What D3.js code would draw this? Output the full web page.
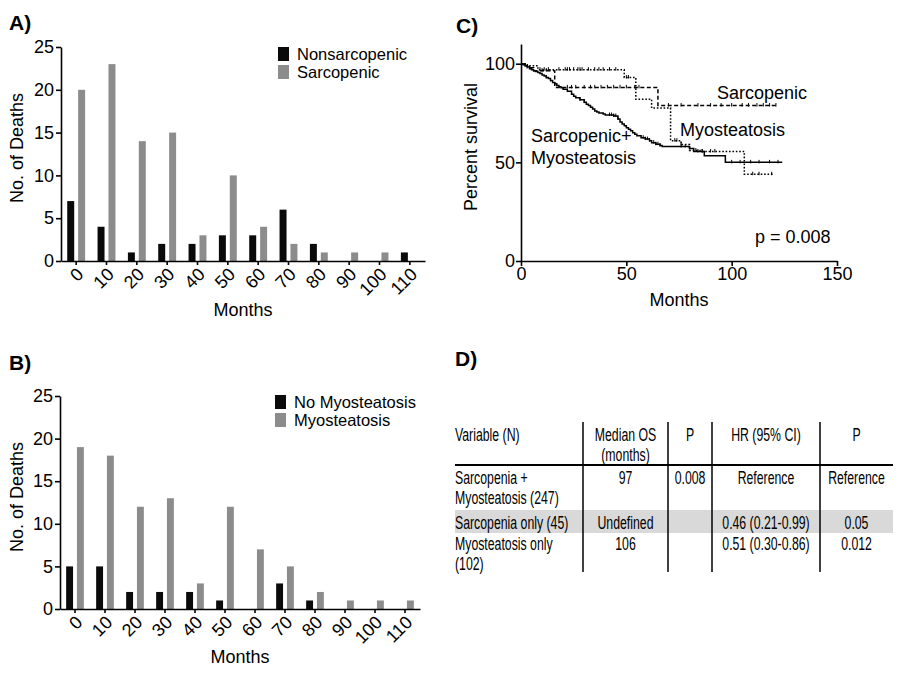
<!DOCTYPE html>
<html><head><meta charset="utf-8">
<script src="https://cdn.jsdelivr.net/npm/d3@7"></script>
<style>
body{margin:0;background:#fff;}
svg{display:block;font-family:"Liberation Sans",Arial,sans-serif;}
</style></head>
<body><svg id="c" width="900" height="675"></svg>
<script>
// ---------- DATA ----------
const months = ["0","10","20","30","40","50","60","70","80","90","100","110"];
const seriesA = ["Nonsarcopenic","Sarcopenic"];
const nonsarcopenic = [7,4,1,2,2,3,3,6,2,0,0,1];
const sarcopenic    = [20,23,14,15,3,10,4,2,1,1,1,0];
const seriesB = ["No Myosteatosis","Myosteatosis"];
const noMyosteatosis = [5,5,2,2,2,1,0,3,1,0,0,0];
const myosteatosis   = [19,18,12,13,3,12,7,5,2,1,1,1];
const yTicksBar = [0,5,10,15,20,25];

// Kaplan-Meier step points [month, percent]
const kmSarcMyo = [[0,100],[1,99.5],[2,99],[3,98.5],[4,97.5],[5,97],[6,96.5],[7,96],[8,95.5],[9,95],[10,94.3],[11,93.8],[12,93],[13,92.5],[14,91.5],[15,90.5],[16,89.8],[17,89],[18,88.3],[19,87.8],[20,87],[22,86],[24,84.5],[25,83.5],[26,82.8],[28,81.7],[30,80.5],[31,79.5],[32,78.8],[33,78],[34,77],[35,76],[36,75.5],[37,75],[39,74.5],[40,74],[44,73.5],[46,72],[47,70.5],[48,69.5],[49,68.5],[50,67.5],[51,66.8],[52,66],[53,65],[54,64.2],[55,63.5],[57,62.5],[59,61.8],[61,61],[62,60],[64,59.2],[66,58.5],[67,58],[80,57],[82,55.5],[87,53.3],[97,50],[124,50]];
const kmSarc = [[0,100],[3,98],[6,96.5],[16,88],[65,78.8],[121,78.8]];
const kmMyo = [[0,100],[2,99],[8,97],[49,93],[54.5,82],[62,77.5],[71,61],[76,59],[80,56],[85,55.5],[106,44],[120,44]];
const censSarcMyo = [2,12,14,28,30,42,43,44,45,46,58,59,60,61,63,64,65,66,76,78,80,84,86,100,104,109,113,118,122];
const censSarc = [10,12,22,24,26,30,33,35,38,41,44,47,50,54,56,70,76,84,90,95,100,105,108,112,115,118,121];
const censMyo = [9,11,13,18,21,22,23,25,27,28,29,32,35,37,39,42,45,50,51,73,74,76,83,86,90,92,110,113,119];
const kmXTicks = [0,50,100,150];
const kmYTicks = [0,50,100];

// Table
const tableHeader = ["Variable (N)","Median OS\n(months)","P","HR (95% CI)","P"];
const tableRows = [
  ["Sarcopenia +\nMyosteatosis (247)","97","0.008","Reference","Reference"],
  ["Sarcopenia only (45)","Undefined","","0.46 (0.21-0.99)","0.05"],
  ["Myosteatosis only\n(102)","106","","0.51 (0.30-0.86)","0.012"]
];

// ---------- DRAW ----------
const svg = d3.select("#c");
const BLACK = "#0a0a0a", GRAY = "#8c8c8c";
const FS = 18;

function barPanel(opt){
  const g = svg.append("g");
  const x = d3.scaleBand().domain(months).range(opt.xr);
  const sub = d3.scaleBand().domain([0,1]).range([x.step()*0.205, x.step()*0.795]).paddingInner(0.36);
  const y = d3.scaleLinear().domain([0,25]).range(opt.yr);
  const data = months.map((m,i)=>({m, v:[opt.a[i], opt.b[i]]}));
  const grp = g.selectAll("g.grp").data(data).join("g").attr("transform",d=>`translate(${x(d.m)},0)`);
  grp.selectAll("rect").data(d=>d.v.map((v,k)=>({v,k}))).join("rect")
    .attr("x",d=>sub(d.k)).attr("width",sub.bandwidth())
    .attr("y",d=>y(d.v)).attr("height",d=>y(0)-y(d.v))
    .attr("fill",d=>d.k===0?BLACK:GRAY);
  const ya = g.append("g").attr("transform",`translate(${opt.xr[0]},0)`)
    .call(d3.axisLeft(y).tickValues(yTicksBar).tickSize(5).tickSizeOuter(0).tickPadding(2));
  const xa = g.append("g").attr("transform",`translate(0,${opt.yr[0]})`)
    .call(d3.axisBottom(x).tickSize(4).tickSizeOuter(0));
  xa.selectAll("text").attr("text-anchor","end").attr("y",0).attr("dy","0.35em")
    .attr("transform","translate(4,10) rotate(-45)");
  [ya,xa].forEach(a=>{
    a.selectAll("path,line").attr("stroke","#000").attr("stroke-width",1.6);
    a.selectAll("text").attr("font-size",FS).attr("fill","#000").attr("font-family","Liberation Sans, Arial, sans-serif");
  });
  // legend
  opt.names.forEach((n,k)=>{
    svg.append("rect").attr("x",opt.lx).attr("y",opt.ly+k*18).attr("width",11).attr("height",14).attr("fill",k===0?BLACK:GRAY);
    svg.append("text").attr("x",opt.lx+19).attr("y",opt.ly+7+k*18).attr("dy","0.36em").attr("font-size",16.5).text(n);
  });
  svg.append("text").attr("transform",`translate(${opt.ylx},${opt.yly}) rotate(-90)`).attr("text-anchor","middle")
    .attr("dy","0.36em").attr("font-size",FS).text("No. of Deaths");
  svg.append("text").attr("x",opt.xlx).attr("y",opt.xly).attr("text-anchor","middle").attr("dy","0.36em")
    .attr("font-size",FS).text("Months");
  svg.append("text").attr("x",opt.tx).attr("y",opt.ty).attr("dy","0.36em").attr("font-size",21).attr("font-weight","bold").text(opt.title);
}

barPanel({xr:[61,425], yr:[261,47], a:nonsarcopenic, b:sarcopenic, names:seriesA,
  lx:278, ly:47, ylx:17, yly:148, xlx:243, xly:310, tx:9, ty:22, title:"A)"});
barPanel({xr:[60,420], yr:[609,396], a:noMyosteatosis, b:myosteatosis, names:seriesB,
  lx:275, ly:395, ylx:17, yly:497, xlx:240, xly:657, tx:9, ty:362, title:"B)"});

// ---------- Panel C ----------
(function(){
  const g = svg.append("g");
  const x = d3.scaleLinear().domain([0,150]).range([521,837]);
  const y = d3.scaleLinear().domain([0,110]).range([261,44]);
  const line = d3.line().x(d=>x(d[0])).y(d=>y(d[1])).curve(d3.curveStepAfter);
  const curves = [
    {d:kmSarcMyo, c:censSarcMyo, dash:null},
    {d:kmSarc, c:censSarc, dash:"4,2.5"},
    {d:kmMyo, c:censMyo, dash:"1.6,1.8"}
  ];
  function valAt(pts,t){ let v=pts[0][1]; for(const p of pts){ if(p[0]<=t) v=p[1]; } return v; }
  curves.forEach(cv=>{
    g.append("path").attr("d",line(cv.d)).attr("fill","none").attr("stroke","#000")
      .attr("stroke-width",1.5).attr("stroke-dasharray",cv.dash);
    g.selectAll(null).data(cv.c).join("line")
      .attr("x1",t=>x(t)).attr("x2",t=>x(t))
      .attr("y1",t=>y(valAt(cv.d,t))-2.5).attr("y2",t=>y(valAt(cv.d,t))+1)
      .attr("stroke","#000").attr("stroke-width",1);
  });
  const ya = g.append("g").attr("transform","translate(521,0)")
    .call(d3.axisLeft(y).tickValues(kmYTicks).tickSize(5).tickSizeOuter(0).tickPadding(1));
  const xa = g.append("g").attr("transform","translate(0,261)")
    .call(d3.axisBottom(x).tickValues(kmXTicks).tickSize(5).tickSizeOuter(0).tickPadding(1));
  [ya,xa].forEach(a=>{
    a.selectAll("path,line").attr("stroke","#000").attr("stroke-width",1.6);
    a.selectAll("text").attr("font-size",FS).attr("fill","#000").attr("font-family","Liberation Sans, Arial, sans-serif");
  });
  const t = (x0,y0,s,anchor)=>svg.append("text").attr("x",x0).attr("y",y0).attr("dy","0.36em")
    .attr("font-size",FS).attr("text-anchor",anchor||"start").text(s);
  t(717,93,"Sarcopenic");
  t(680,130,"Myosteatosis");
  t(531,136,"Sarcopenic+");
  t(531,158,"Myosteatosis");
  t(755,237,"p = 0.008");
  t(679,300,"Months","middle");
  svg.append("text").attr("transform","translate(471,147) rotate(-90)").attr("text-anchor","middle")
    .attr("dy","0.36em").attr("font-size",FS).text("Percent survival");
  svg.append("text").attr("x",456).attr("y",25).attr("dy","0.36em").attr("font-size",21).attr("font-weight","bold").text("C)");
})();

// ---------- Panel D ----------
(function(){
  svg.append("text").attr("x",455).attr("y",358).attr("dy","0.36em").attr("font-size",21).attr("font-weight","bold").text("D)");
  const colX = [455,583,668,712,820,893]; // column boundaries
  const g = svg.append("g");
  g.append("rect").attr("x",455).attr("y",510).attr("width",438).attr("height",23).attr("fill","#d9d9d9");
  colX.slice(1,5).forEach(cx=>g.append("line").attr("x1",cx).attr("x2",cx).attr("y1",422).attr("y2",572)
    .attr("stroke","#000").attr("stroke-width",1.5));
  g.append("line").attr("x1",455).attr("x2",893).attr("y1",465).attr("y2",465).attr("stroke","#000").attr("stroke-width",2.2);
  const fs = 18.5, sx = 0.665;
  function cell(txt, ci, yc){
    const lines = txt.split("\n");
    const cx = ci===0 ? colX[0] : (colX[ci]+colX[ci+1])/2;
    lines.forEach((ln,k)=>{
      g.append("text").attr("transform",`translate(${cx},${yc+k*20}) scale(${sx},1)`).attr("dy","0.36em")
        .attr("text-anchor",ci===0?"start":"middle").attr("font-size",fs).text(ln);
    });
  }
  tableHeader.forEach((h,i)=>cell(h,i,434));
  const rowY = [477,522,543];
  tableRows.forEach((r,ri)=>r.forEach((v,ci)=>{ if(v) cell(v,ci,rowY[ri]); }));
})();
</script></body></html>
